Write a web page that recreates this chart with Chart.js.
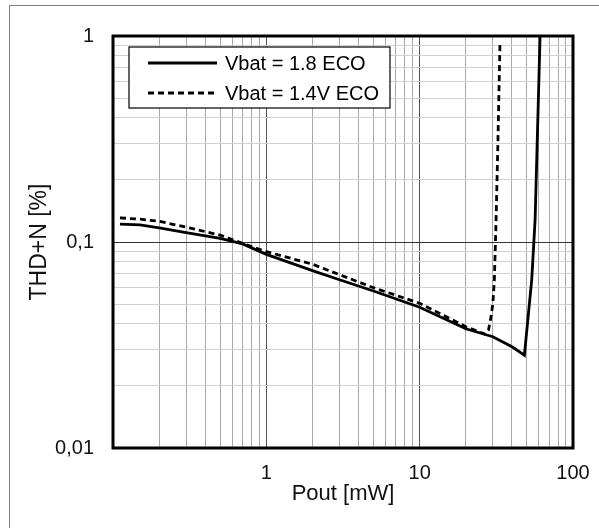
<!DOCTYPE html>
<html>
<head>
<meta charset="utf-8">
<script src="https://cdn.jsdelivr.net/npm/chart.js@4/dist/chart.umd.min.js"></script>
<style>
  html, body { margin: 0; padding: 0; background: #fff; }
  #wrap { position: relative; width: 599px; height: 528px; overflow: hidden; }
  #frame { position: absolute; left: 9px; top: 5px; width: 700px; height: 700px;
           border-left: 1.5px solid #808080; border-top: 1.5px solid #808080; pointer-events: none; }
  canvas { position: absolute; left: 0; top: 0; }
</style>
</head>
<body>
<div id="wrap">
  <canvas id="c" width="599" height="528"></canvas>
  <div id="frame"></div>
</div>
<script>
// ---- data ----
const seriesNames = ["Vbat = 1.8 ECO", "Vbat = 1.4V ECO"];

const poutSolid = [0.111, 0.15, 0.2, 0.3, 0.5, 0.7, 1, 2, 3, 5, 10, 20, 30, 40, 48.2, 53.8, 56.6, 61];
const thdSolid  = [0.122, 0.121, 0.117, 0.111, 0.104, 0.0979, 0.0871, 0.0726, 0.0656, 0.0578, 0.0482, 0.0379, 0.0347, 0.031, 0.0282, 0.0655, 0.128, 1.0];

const poutDashed = [0.111, 0.15, 0.2, 0.3, 0.5, 0.7, 1, 2, 3, 5, 10, 20, 26.7, 28.1, 29.0, 30.0, 30.7, 31.5, 32.3, 33.4];
const thdDashed  = [0.131, 0.129, 0.126, 0.118, 0.108, 0.0985, 0.0898, 0.078, 0.0694, 0.060, 0.0504, 0.0388, 0.0357, 0.0374, 0.042, 0.05, 0.0655, 0.128, 0.28, 0.914];

const xGridValues = [0.1,0.2,0.3,0.4,0.5,0.6,0.7,0.8,0.9,1,2,3,4,5,6,7,8,9,10,20,30,40,50,60,70,80,90,100];
const yGridValues = [0.01,0.02,0.03,0.04,0.05,0.06,0.07,0.08,0.09,0.1,0.2,0.3,0.4,0.5,0.6,0.7,0.8,0.9,1];
const xMajor = [1, 10];
const yMajor = [0.1];
const xTickLabels = {1: "1", 10: "10", 100: "100"};
const yTickLabels = {1: "1", 0.1: "0,1", 0.01: "0,01"};
const xTitle = "Pout [mW]";
const yTitle = "THD+N [%]";

// ---- chart ----
const FONT = "'Liberation Sans', Arial, Helvetica, sans-serif";
function near(v, arr) { return arr.some(a => Math.abs(a - v) / a < 1e-6); }
function labelFor(map, v) {
  for (const k in map) { if (Math.abs(parseFloat(k) - v) / parseFloat(k) < 1e-6) return map[k]; }
  return "";
}

const legendBox = {
  id: "legendBox",
  afterDatasetsDraw(chart) {
    const {ctx, chartArea} = chart;
    const x = chartArea.left + 16, y = chartArea.top + 11;
    const rowH = 30, lineX0 = x + 19, lineX1 = x + 88, textX = x + 96;
    ctx.save();
    ctx.font = "20px " + FONT;
    let maxW = 0;
    chart.data.datasets.forEach(ds => { maxW = Math.max(maxW, ctx.measureText(ds.label).width); });
    const w = textX + maxW + 11 - x, h = 61;
    ctx.fillStyle = "#fff";
    ctx.fillRect(x, y, w, h);
    ctx.strokeStyle = "#000";
    ctx.lineWidth = 1.2;
    ctx.strokeRect(x, y, w, h);
    chart.data.datasets.forEach((ds, i) => {
      const ly = y + 16 + i * rowH;
      ctx.beginPath();
      ctx.setLineDash(ds.borderDash || []);
      ctx.lineWidth = ds.borderWidth;
      ctx.strokeStyle = ds.borderColor;
      ctx.moveTo(lineX0, ly);
      ctx.lineTo(lineX1, ly);
      ctx.stroke();
      ctx.setLineDash([]);
      ctx.fillStyle = "#000";
      ctx.textBaseline = "middle";
      ctx.textAlign = "left";
      ctx.fillText(ds.label, textX, ly + 1);
    });
    ctx.restore();
  }
};

const plotFrame = {
  id: "plotFrame",
  afterDraw(chart) {
    const {ctx, chartArea: a} = chart;
    ctx.save();
    ctx.strokeStyle = "#000";
    ctx.lineWidth = 3;
    ctx.strokeRect(a.left, a.top, a.right - a.left, a.bottom - a.top);
    ctx.restore();
  }
};

new Chart(document.getElementById("c"), {
  type: "line",
  data: {
    datasets: [
      {
        label: seriesNames[0],
        data: poutSolid.map((x, i) => ({x, y: thdSolid[i]})),
        borderColor: "#000", borderWidth: 2.8, pointRadius: 0, tension: 0, fill: false
      },
      {
        label: seriesNames[1],
        data: poutDashed.map((x, i) => ({x, y: thdDashed[i]})),
        borderColor: "#000", borderWidth: 2.8, borderDash: [6, 4], pointRadius: 0, tension: 0, fill: false
      }
    ]
  },
  options: {
    responsive: false,
    animation: false,
    devicePixelRatio: 1,
    layout: { padding: { top: 36, right: 26, left: 0, bottom: 0 } },
    plugins: { legend: { display: false }, tooltip: { enabled: false } },
    scales: {
      x: {
        type: "logarithmic",
        min: 0.1, max: 100,
        afterBuildTicks(scale) { scale.ticks = xGridValues.map(v => ({value: v, major: near(v, xMajor)})); },
        afterFit(scale) { scale.height = 80; scale.paddingLeft = 0; scale.paddingRight = 0; },
        ticks: {
          autoSkip: false, maxRotation: 0, padding: 13,
          color: "#111",
          font: { family: FONT, size: 20 },
          callback: (v) => labelFor(xTickLabels, v)
        },
        grid: {
          drawTicks: false,
          lineWidth: 1,
          color: (c) => near(c.tick.value, xMajor) ? "#555" : "#a8a8a8"
        },
        border: { display: false },
        title: {
          display: true, text: xTitle, color: "#111",
          font: { family: FONT, size: 22 },
          padding: { top: 0, bottom: 21 }
        }
      },
      y: {
        type: "logarithmic",
        min: 0.01, max: 1,
        afterBuildTicks(scale) { scale.ticks = yGridValues.map(v => ({value: v, major: near(v, yMajor)})); },
        afterFit(scale) { scale.width = 113; },
        ticks: {
          autoSkip: false, padding: 19,
          color: "#111",
          font: { family: FONT, size: 20 },
          callback: (v) => labelFor(yTickLabels, v)
        },
        grid: {
          drawTicks: false,
          lineWidth: 1,
          color: (c) => near(c.tick.value, yMajor) ? "#333" : "#d0d0d0"
        },
        border: { display: false },
        title: {
          display: true, text: yTitle, color: "#111",
          font: { family: FONT, size: 23 },
          padding: { top: 26, bottom: 0 }
        }
      }
    }
  },
  plugins: [legendBox, plotFrame]
});
</script>
</body>
</html>
